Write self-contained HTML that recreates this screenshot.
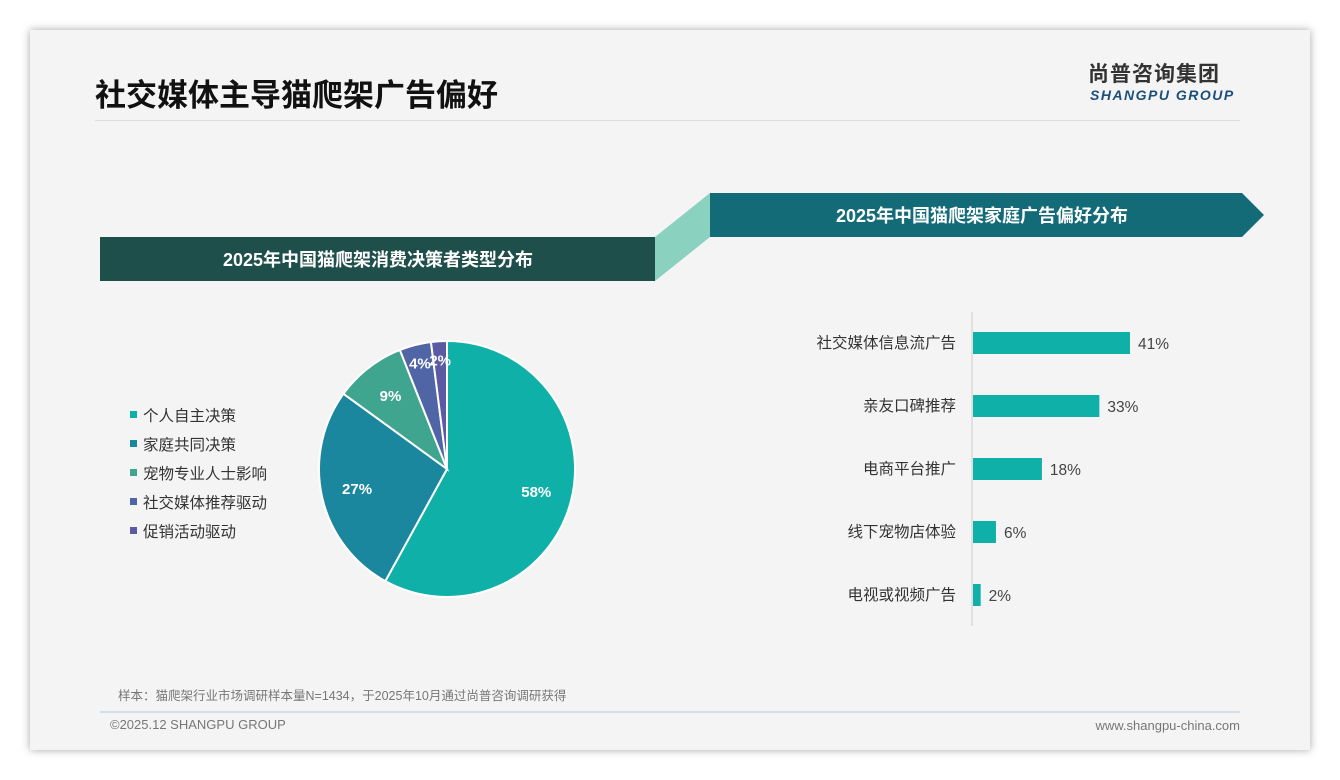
<!DOCTYPE html>
<html><head><meta charset="utf-8"><style>
body{margin:0;width:1340px;height:780px;background:#fff;font-family:"Liberation Sans","Noto Sans CJK SC",sans-serif;position:relative;overflow:hidden}
.card{position:absolute;left:30px;top:30px;width:1280px;height:720px;background:#f4f4f4;box-shadow:0 0 8px rgba(0,0,0,.35)}
.abs{position:absolute;line-height:1}
</style></head><body>
<div class="card"></div>
<div class="abs" style="left:95px;top:80px;font-size:31px;font-weight:bold;color:#111">社交媒体主导猫爬架广告偏好</div>
<div class="abs" style="left:95px;top:120px;width:1145px;height:1px;background:#ddd"></div>
<div class="abs" style="left:1088px;top:64px;font-size:21px;font-weight:bold;color:#333;letter-spacing:1px">尚普咨询集团</div>
<div class="abs" style="left:1090px;top:88px;font-size:14px;font-weight:bold;font-style:italic;color:#1d4f7a;letter-spacing:1.5px">SHANGPU GROUP</div>
<svg class="abs" style="left:0;top:0" width="1340" height="780">
<polygon points="655,237 710,193 710,237 655,281" fill="#8bd1c0"/>
<rect x="100" y="237" width="555" height="44" fill="#1f4f4b"/>
<text x="378" y="266" text-anchor="middle" fill="#fff" font-size="18" font-weight="bold" font-family="Liberation Sans,Noto Sans CJK SC,sans-serif">2025年中国猫爬架消费决策者类型分布</text>
<polygon points="710,193 1242,193 1264,215 1242,237 710,237" fill="#136b78"/>
<text x="982" y="222" text-anchor="middle" fill="#fff" font-size="18" font-weight="bold" font-family="Liberation Sans,Noto Sans CJK SC,sans-serif">2025年中国猫爬架家庭广告偏好分布</text>
<g id="pie"></g><g id="legend"></g><g id="bars"></g>
<line x1="972" y1="312" x2="972" y2="626" stroke="#ccc"/>
<line x1="100" y1="712" x2="1240" y2="712" stroke="#b8c8d8"/>
</svg>
<div class="abs" style="left:118px;top:690px;font-size:12.5px;color:#777">样本：猫爬架行业市场调研样本量N=1434，于2025年10月通过尚普咨询调研获得</div>
<div class="abs" style="left:110px;top:718px;font-size:13px;color:#777">©2025.12 SHANGPU GROUP</div>
<div class="abs" style="right:100px;top:719px;font-size:13px;color:#777">www.shangpu-china.com</div>
<script>
const pieLabels=["个人自主决策","家庭共同决策","宠物专业人士影响","社交媒体推荐驱动","促销活动驱动"];
const pieValues=[58,27,9,4,2];
const pieColors=["#0fb0a8","#1a879e","#3fa58e","#4f65a5","#5b5aa3"];
const barLabels=["社交媒体信息流广告","亲友口碑推荐","电商平台推广","线下宠物店体验","电视或视频广告"];
const barValues=[41,33,18,6,2];
const NS="http://www.w3.org/2000/svg";
function mk(t,a,p){const e=document.createElementNS(NS,t);for(const k in a)e.setAttribute(k,a[k]);p.appendChild(e);return e;}
const cx=447,cy=469,R=128;
const total=pieValues.reduce((a,b)=>a+b,0);
let ang=0;
const pie=document.getElementById('pie');
pieValues.forEach((v,i)=>{
 const a0=ang,a1=ang+v/total*2*Math.PI;ang=a1;
 const p=a=>[cx+R*Math.sin(a),cy-R*Math.cos(a)];
 const [x0,y0]=p(a0),[x1,y1]=p(a1);
 const large=(a1-a0)>Math.PI?1:0;
 const s=mk('path',{d:`M${cx},${cy}L${x0},${y0}A${R},${R} 0 ${large} 1 ${x1},${y1}Z`,fill:pieColors[i],stroke:'#fff','stroke-width':2},pie);
 
 
 const m=(a0+a1)/2,r=R*(v<5?0.85:0.72);
 const t=mk('text',{x:cx+r*Math.sin(m),y:cy-r*Math.cos(m)+5,'text-anchor':'middle',fill:'#fff','font-size':15,'font-weight':'bold','font-family':'Liberation Sans,sans-serif'},pie);
 t.textContent=v+'%';
 
 
});
const lg=document.getElementById('legend');
pieLabels.forEach((l,i)=>{
 const y=415+i*29;
 const r=mk('rect',{x:130,y:y-4,width:7,height:7,fill:pieColors[i]},lg);
 
 
 const t=mk('text',{x:143,y:y+6,'font-size':15.5,fill:'#333','font-family':'Liberation Sans,Noto Sans CJK SC,sans-serif'},lg);
 t.textContent=l;
 
 
});
const bg=document.getElementById('bars');
const x0=973,scale=157/41;
barLabels.forEach((l,i)=>{
 const yc=343+i*63,w=barValues[i]*scale;
 const r=mk('rect',{x:x0,y:yc-11,width:w,height:22,fill:'#0fb0a8'},bg);
 
 
 const t=mk('text',{x:956,y:yc+5,'text-anchor':'end','font-size':15.5,fill:'#333','font-family':'Liberation Sans,Noto Sans CJK SC,sans-serif'},bg);
 t.textContent=l;
 
 
 const v=mk('text',{x:x0+w+8,y:yc+6,'font-size':15.5,fill:'#444','font-family':'Liberation Sans,sans-serif'},bg);
 v.textContent=barValues[i]+'%';
 
 
});
</script>
</body></html>
